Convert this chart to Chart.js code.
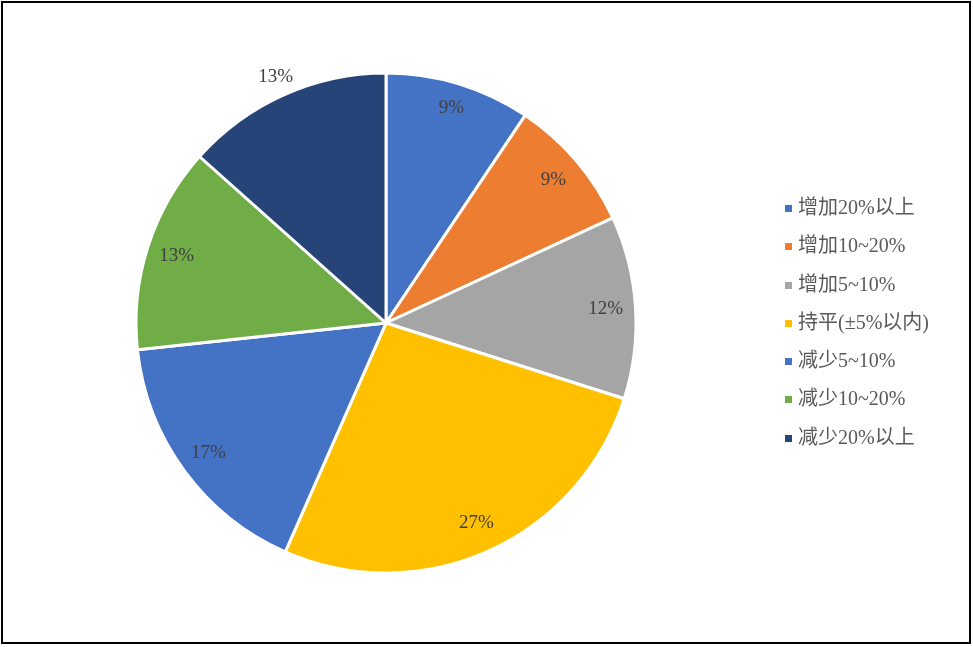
<!DOCTYPE html>
<html>
<head>
<meta charset="utf-8">
<script src="https://cdn.jsdelivr.net/npm/chart.js@4.4.1/dist/chart.umd.min.js"></script>
<style>
  html, body { margin: 0; padding: 0; background: #fff; }
  #wrap { position: relative; width: 973px; height: 647px; }
  #frame { position: absolute; left: 1px; top: 1px; width: 966px; height: 639px; border: 2px solid #000; pointer-events: none; }
  #legend { position: absolute; left: 785px; top: 194px; font-family: "Liberation Serif", "Noto Sans CJK SC", serif; font-size: 20px; color: #595959; }
  .item { height: 38.3px; line-height: 27px; white-space: nowrap; }
  .box { display: inline-block; width: 7px; height: 7px; margin-right: 6px; vertical-align: 2px; }
</style>
</head>
<body>
<div id="wrap">
  <canvas id="myChart" width="973" height="647"></canvas>
  <div id="legend"></div>
  <div id="frame"></div>
</div>
<script>
var labels = ['增加20%以上', '增加10~20%', '增加5~10%', '持平(±5%以内)', '减少5~10%', '减少10~20%', '减少20%以上'];
var values = [9.4, 8.7, 11.8, 26.7, 16.7, 13.3, 13.4];
var colors = ['#4472C4', '#ED7D31', '#A5A5A5', '#FFC000', '#4472C4', '#70AD47', '#264478'];
// label distance from centre, as a share of the radius
var labelPos = [0.9, 0.88, 0.88, 0.88, 0.88, 0.88, 1.08];

var pieLabels = {
  id: 'pieLabels',
  afterDatasetsDraw: function (chart) {
    var ctx = chart.ctx;
    var meta = chart.getDatasetMeta(0);
    ctx.save();
    ctx.font = '19px "Liberation Serif", serif';
    ctx.fillStyle = '#404040';
    ctx.textAlign = 'center';
    ctx.textBaseline = 'middle';
    meta.data.forEach(function (arc, i) {
      var p = arc.getProps(['x', 'y', 'startAngle', 'endAngle', 'outerRadius'], true);
      var mid = (p.startAngle + p.endAngle) / 2;
      var r = p.outerRadius * labelPos[i];
      ctx.fillText(Math.round(values[i]) + '%', p.x + Math.cos(mid) * r, p.y + Math.sin(mid) * r);
    });
    ctx.restore();
  }
};

var ctx = document.getElementById('myChart');
var myPieChart = new Chart(ctx, {
  type: 'pie',
  data: {
    labels: labels,
    datasets: [{
      data: values,
      backgroundColor: colors,
      borderColor: '#ffffff',
      borderWidth: 3
    }]
  },
  options: {
    responsive: false,
    animation: false,
    radius: 250,
    layout: { padding: { left: 136, right: 337, top: 73, bottom: 74 } },
    plugins: {
      legend: { display: false },
      tooltip: { enabled: false }
    }
  },
  plugins: [pieLabels]
});

var legend = document.getElementById('legend');
for (var i = 0; i < labels.length; i++) {
  var row = document.createElement('div');
  row.className = 'item';
  var box = document.createElement('span');
  box.className = 'box';
  box.style.background = colors[i];
  row.appendChild(box);
  row.appendChild(document.createTextNode(labels[i]));
  legend.appendChild(row);
}
</script>
</body>
</html>
